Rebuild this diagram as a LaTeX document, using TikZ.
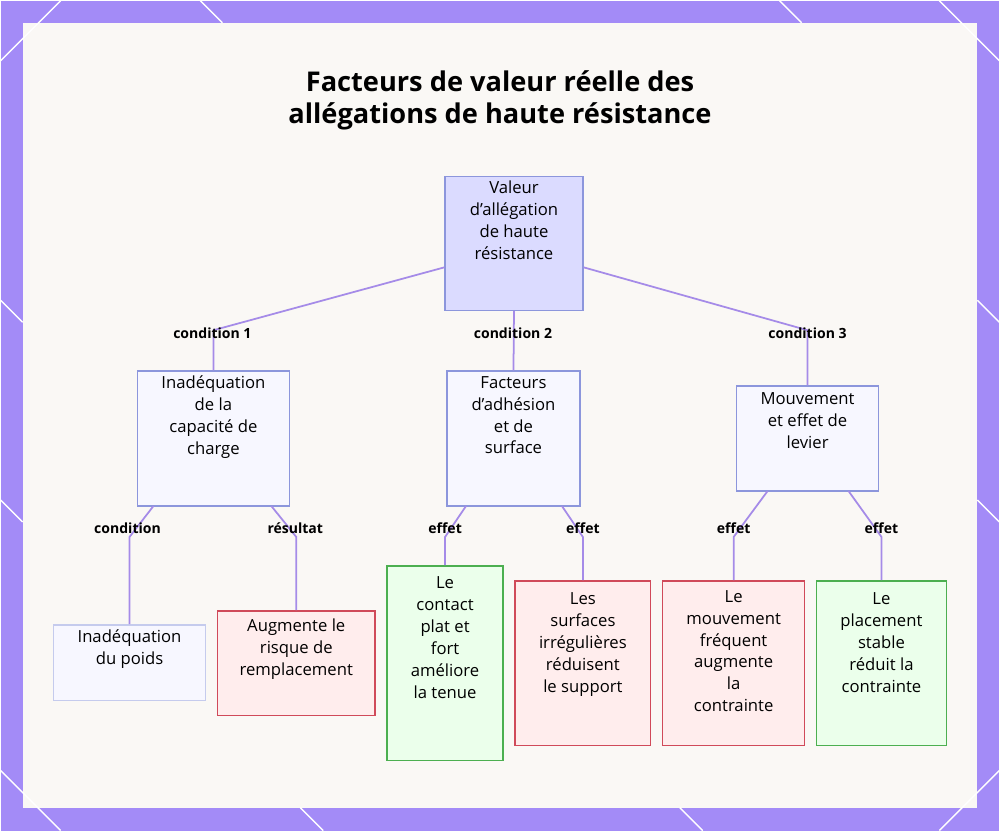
\documentclass[tikz,border=0pt]{standalone}
\usepackage{fontspec}
\setmainfont{Open Sans}
\usetikzlibrary{positioning}
\definecolor{framePurple}{HTML}{A38BF7}
\definecolor{panelBg}{HTML}{FAF8F5}
\definecolor{edgePurple}{HTML}{A58BE8}
\definecolor{blueLine}{HTML}{8C96DC}
\definecolor{redLine}{HTML}{D04A5A}
\definecolor{greenLine}{HTML}{4CAF50}
\begin{document}
\begin{tikzpicture}[x=0.02cm,y=-0.02cm,
    box/.style={draw=blueLine,fill=blue!3,line width=0.8pt,align=center,
      font=\fontsize{9.5}{12.5}\selectfont,inner sep=0pt},
    boxR/.style={box,draw=redLine,fill=red!7},
    boxG/.style={box,draw=greenLine,fill=green!8},
    link/.style={draw=edgePurple,line width=1pt},
    lbl/.style={font=\bfseries\fontsize{8}{10}\selectfont}]
  % frame and panel
  \fill[framePurple] (0,0) rectangle (1000,831);
  \fill[panelBg] (22,22) rectangle (978,808);
  \foreach \a/\b/\c/\d in {0/60/60/0, 940/0/1000/60, 0/771/60/831, 940/831/1000/771,
      200/0/222/22, 780/0/802/22, 0/300/22/322, 978/300/1000/322, 0/500/22/522,
      978/500/1000/522, 300/808/323/831, 680/808/703/831}
    \draw[white,line width=0.8pt] (\a,\b) -- (\c,\d);
  % title
  \node[font=\bfseries\fontsize{15.5}{18}\selectfont,align=center] (title) at (500,100)
    {Facteurs de valeur réelle des\\allégations de haute résistance};
  % boxes
  \node[box,fill=blue!14,minimum width=2.76cm,minimum height=2.68cm] (root) at (514,243)
    {Valeur\\d'allégation\\de haute\\résistance\\[0.5cm]};
  \node[box,minimum width=3.04cm,minimum height=2.7cm] (capa) at (213,438.5)
    {Inadéquation\\de la\\capacité de\\charge\\[0.5cm]};
  \node[box,minimum width=2.66cm,minimum height=2.7cm] (adh) at (513.5,438.5)
    {Facteurs\\d'adhésion\\et de\\surface\\[0.5cm]};
  \node[box,minimum width=2.84cm,minimum height=2.1cm] (mouv) at (808,438.5)
    {Mouvement\\et effet de\\levier\\[0.3cm]};
  \node[box,draw=blueLine!50,minimum width=3.04cm,minimum height=1.52cm] (poids) at (129,663)
    {Inadéquation\\du poids\\[0.2cm]};
  \node[boxR,minimum width=3.16cm,minimum height=2.1cm] (rempl) at (296,663.5)
    {Augmente le\\risque de\\remplacement\\[0.2cm]};
  \node[boxG,minimum width=2.32cm,minimum height=3.9cm] (plat) at (445,663.5)
    {Le\\contact\\plat et\\fort\\améliore\\la tenue\\[0.6cm]};
  \node[boxR,minimum width=2.72cm,minimum height=3.3cm] (irreg) at (583,663.5)
    {Les\\surfaces\\irrégulières\\réduisent\\le support\\[0.4cm]};
  \node[boxR,minimum width=2.84cm,minimum height=3.3cm] (freq) at (734,663.5)
    {Le\\mouvement\\fréquent\\augmente\\la\\contrainte\\[0.05cm]};
  \node[boxG,minimum width=2.6cm,minimum height=3.3cm] (stable) at (882,663.5)
    {Le\\placement\\stable\\réduit la\\contrainte\\[0.4cm]};
  % connectors
  \draw[link] (root.west |- 0,267) -- (213,330) -- (capa.north);
  \draw[link] (root.south) -- (adh.north);
  \draw[link] (root.east |- 0,267) -- (808,330) -- (mouv.north);
  \draw[link] (153,506) -- (129,537) -- (poids.north);
  \draw[link] (271,506) -- (296,537) -- (rempl.north);
  \draw[link] (466,506) -- (445,537) -- (plat.north);
  \draw[link] (562,506) -- (583,537) -- (irreg.north);
  \draw[link] (768,491) -- (734,537) -- (freq.north);
  \draw[link] (849,491) -- (882,537) -- (stable.north);
  % labels
  \node[lbl] (l1) at (212,333) {condition 1};
  \node[lbl] (l2) at (513,333) {condition 2};
  \node[lbl] (l3) at (808,333) {condition 3};
  \node[lbl] (l4) at (127,528) {condition};
  \node[lbl] (l5) at (295,528) {résultat};
  \node[lbl] (l6) at (445,528) {effet};
  \node[lbl] (l7) at (583,528) {effet};
  \node[lbl] (l8) at (734,528) {effet};
  \node[lbl] (l9) at (882,528) {effet};
\end{tikzpicture}
\end{document}
